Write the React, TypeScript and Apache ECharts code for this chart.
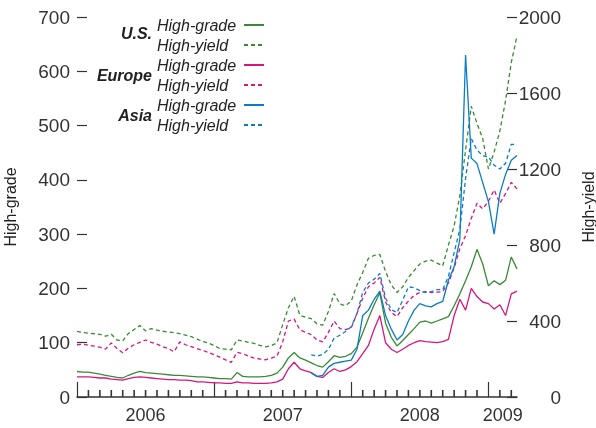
import React, { useEffect, useRef } from 'react';
import * as echarts from 'echarts';

// x grid: half-month steps from Jan 2006 (0) to mid-March 2009 (38.5)
const yearLabels = ['2006', '2007', '2008', '2009'];
const yearLabelPos = [6, 18, 30, 37.25];
const yearStarts = [0, 12, 24, 36];
const monthStarts = [1,2,3,4,5,6,7,8,9,10,11,13,14,15,16,17,18,19,20,21,22,23,25,26,27,28,29,30,31,32,33,34,35,37,38];

const usHighGrade = [47,46,46,44,42,40,38,36,35,40,44,47,45,44,43,42,41,40,40,39,38,37,37,36,35,34,34,33,45,38,37,37,37,38,40,44,55,72,82,72,68,63,58,55,65,76,73,75,80,92,118,145,170,192,136,110,94,104,115,126,138,140,136,140,144,148,168,190,214,240,272,245,205,214,207,215,258,236];
const usHighYield = [345,340,336,333,330,320,330,300,295,335,355,376,348,360,352,346,342,339,333,326,318,305,292,285,270,255,252,248,300,295,288,282,272,264,270,285,381,470,530,430,420,412,385,378,450,545,490,480,505,590,655,730,745,750,660,590,550,580,630,665,700,715,720,705,690,800,900,1060,1300,1530,1440,1360,1200,1290,1400,1560,1760,1900];
const europeHighGrade = [37,37,37,36,35,35,33,32,31,34,36,37,36,35,34,33,32,32,31,31,30,28,28,27,26,26,25,25,28,26,26,25,25,25,26,28,33,52,64,52,48,45,38,36,45,52,47,50,56,65,80,95,125,150,100,88,82,88,95,100,104,102,101,100,102,106,150,180,160,200,185,175,172,162,170,150,190,195];
const europeHighYield = [275,278,272,268,262,252,285,255,233,258,275,288,300,288,278,265,255,238,290,275,265,255,245,235,222,210,195,182,235,228,215,205,200,196,205,215,290,400,410,354,340,328,300,290,340,400,360,355,365,440,520,580,600,630,500,445,423,470,505,535,550,555,550,552,555,600,680,780,850,940,1020,990,1030,1090,1020,1070,1130,1095];
const asiaHighGrade = [null,null,null,null,null,null,null,null,null,null,null,null,null,null,null,null,null,null,null,null,null,null,null,null,null,null,null,null,null,null,null,null,null,null,null,null,null,null,null,null,null,
  44,38,40,55,62,64,66,68,88,150,160,180,195,150,125,105,115,140,160,172,168,166,172,176,215,240,290,630,440,430,395,360,300,375,410,436,445];
const asiaHighYield = [null,null,null,null,null,null,null,null,null,null,null,null,null,null,null,null,null,null,null,null,null,null,null,null,null,null,null,null,null,null,null,null,null,null,null,null,null,null,null,null,null,
  222,215,225,250,310,325,345,370,440,550,600,620,650,520,460,444,510,580,575,560,550,555,565,565,635,760,883,1150,1360,1300,1270,1264,1220,1200,1230,1330,1330];

const months = usHighGrade.map((_, i) => i / 2);

const FONT = '"Liberation Sans", Arial, Helvetica, sans-serif';
const TXT = '#333';
const GREEN = '#3a8a35';
const PINK = '#d6167d';
const BLUE = '#0a7cc6';

const seriesDefs = [
  { name: 'U.S. High-grade', data: usHighGrade, color: GREEN, axis: 0, dashed: false },
  { name: 'U.S. High-yield', data: usHighYield, color: GREEN, axis: 1, dashed: true },
  { name: 'Europe High-grade', data: europeHighGrade, color: PINK, axis: 0, dashed: false },
  { name: 'Europe High-yield', data: europeHighYield, color: PINK, axis: 1, dashed: true },
  { name: 'Asia High-grade', data: asiaHighGrade, color: BLUE, axis: 0, dashed: false },
  { name: 'Asia High-yield', data: asiaHighYield, color: BLUE, axis: 1, dashed: true },
];

export default function App() {
  const ref = useRef<HTMLDivElement>(null);
  useEffect(() => {
    if (!ref.current) return;
    const chart = echarts.init(ref.current, undefined, { renderer: 'svg' });
    const regionText = (text: string, y: number) => ({
      type: 'text',
      x: 152,
      y,
      style: {
        text,
        align: 'right',
        verticalAlign: 'middle',
        textAlign: 'right',
        textVerticalAlign: 'middle',
        fontFamily: FONT,
        fontSize: 16,
        fontWeight: 'bold',
        fontStyle: 'italic',
        fill: '#222',
      },
    });
    const lineSeries = seriesDefs.map((s) => ({
      name: s.name,
      type: 'line',
      xAxisIndex: 0,
      yAxisIndex: s.axis,
      symbol: 'none',
      connectNulls: false,
      data: months.map((m, i) => [m, s.data[i]]),
      color: s.color,
      lineStyle: { color: s.color, width: 1.3, type: s.dashed ? [4, 3] : 'solid' },
    }));
    // monthly minor ticks on the time axis, placed through the axis scale
    const monthTickSeries = {
      name: 'month-ticks',
      type: 'scatter',
      xAxisIndex: 0,
      yAxisIndex: 0,
      silent: true,
      clip: false,
      symbol: 'rect',
      symbolSize: [1.6, 7],
      symbolOffset: [0, -3.5],
      itemStyle: { color: TXT, opacity: 1 },
      z: 10,
      data: monthStarts.map((m) => [m, 0]),
    };
    chart.setOption({
      animation: false,
      grid: { left: 77, right: 79, top: 17, bottom: 31, containLabel: false, outerBoundsMode: 'none' },
      legend: {
        orient: 'vertical',
        left: 157,
        top: 17,
        padding: 0,
        itemGap: 4,
        itemWidth: 20,
        itemHeight: 8,
        align: 'right',
        selectedMode: false,
        itemStyle: { opacity: 0 },
        data: seriesDefs.map((s) => s.name),
        formatter: (name: string) => `{t|${name.split(' ').pop()}}`,
        textStyle: {
          rich: {
            t: {
              width: 82,
              align: 'left',
              fontSize: 16,
              fontStyle: 'italic',
              fontFamily: FONT,
              color: '#222',
            },
          },
        },
      },
      graphic: [regionText('U.S.', 33), regionText('Europe', 75), regionText('Asia', 115)],
      xAxis: [
        {
          type: 'value',
          min: 0,
          max: 38.5,
          position: 'bottom',
          splitLine: { show: false },
          axisLine: { show: true, onZero: false, lineStyle: { color: TXT, width: 1.5 } },
          axisTick: { show: true, inside: true, length: 15, customValues: yearStarts, lineStyle: { color: TXT, width: 1.2 } },
          axisLabel: {
            show: true,
            customValues: yearLabelPos,
            formatter: (v: number) => yearLabels[yearLabelPos.indexOf(v)] ?? '',
            fontFamily: FONT,
            fontSize: 18,
            color: TXT,
            margin: 9,
          },
        },
      ],
      yAxis: [
        {
          type: 'value',
          position: 'left',
          min: 0,
          max: 700,
          interval: 100,
          splitLine: { show: false },
          axisLine: { show: false, onZero: false },
          axisTick: { show: true, inside: true, length: 10, lineStyle: { color: TXT, width: 1.2 } },
          axisLabel: { fontFamily: FONT, fontSize: 19, color: TXT, margin: 7 },
          name: 'High-grade',
          nameLocation: 'middle',
          nameGap: 59,
          nameRotate: 90,
          nameTextStyle: { fontFamily: FONT, fontSize: 16, color: '#222' },
        },
        {
          type: 'value',
          position: 'right',
          min: 0,
          max: 2000,
          interval: 400,
          splitLine: { show: false },
          axisLine: { show: false, onZero: false },
          axisTick: { show: true, inside: true, length: 10, lineStyle: { color: TXT, width: 1.2 } },
          axisLabel: { fontFamily: FONT, fontSize: 19, color: TXT, margin: 44, align: 'right', formatter: (v: number) => String(v) },
          name: 'High-yield',
          nameLocation: 'middle',
          nameGap: 63,
          nameRotate: 90,
          nameTextStyle: { fontFamily: FONT, fontSize: 16, color: '#222' },
        },
      ],
      series: [...lineSeries, monthTickSeries],
    });
    return () => chart.dispose();
  }, []);
  return <div ref={ref} style={{ position: 'fixed', left: 0, top: 0, width: 596, height: 428 }} />;
}
